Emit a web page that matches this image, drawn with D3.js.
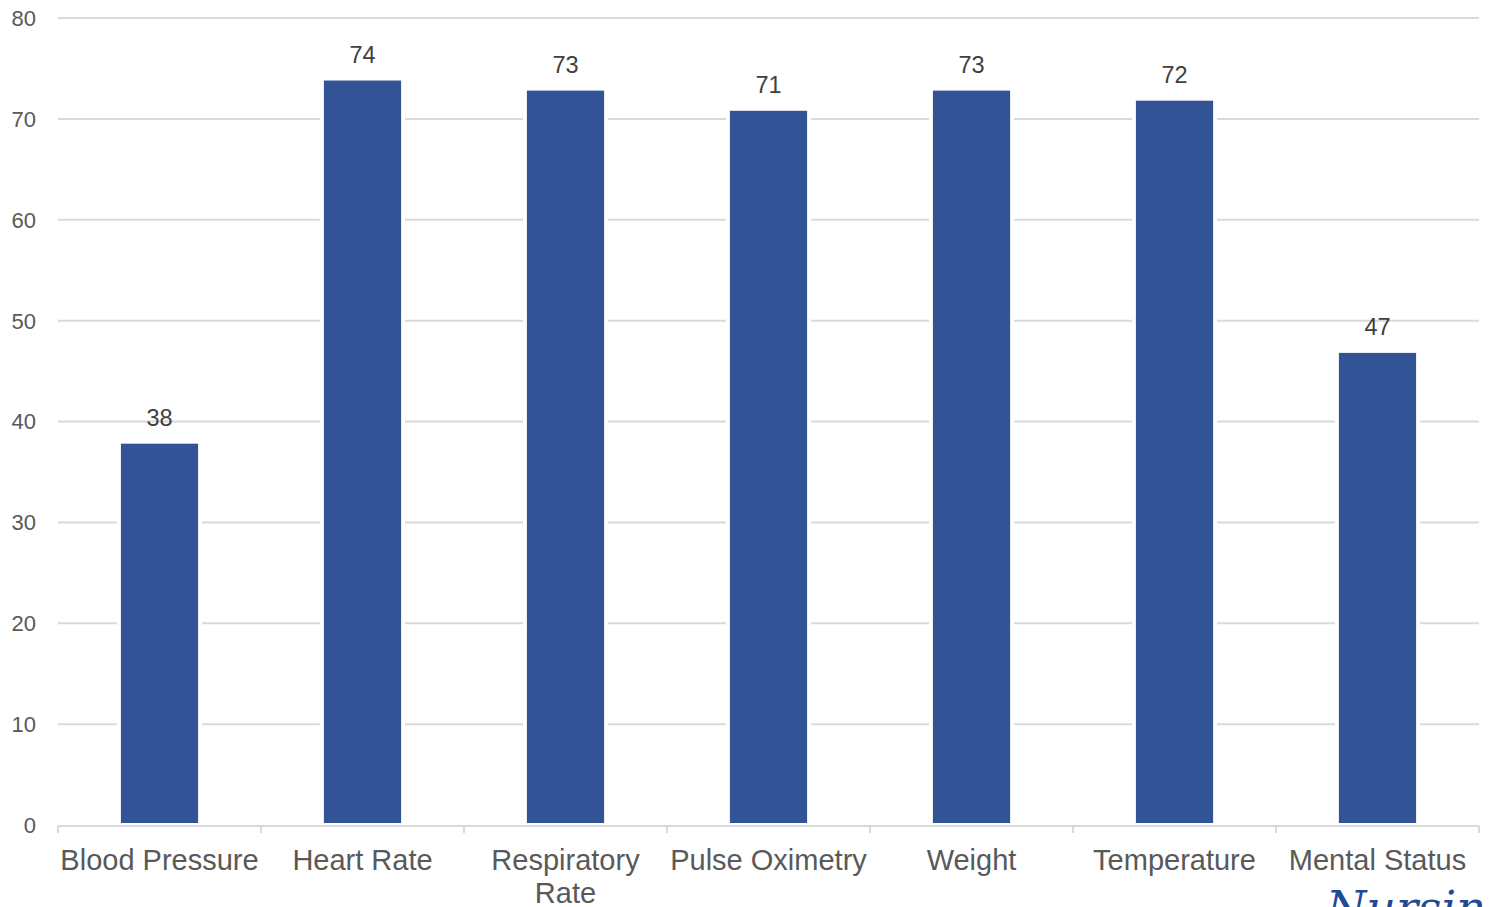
<!DOCTYPE html>
<html>
<head>
<meta charset="utf-8">
<script src="https://cdn.jsdelivr.net/npm/d3@7"></script>
<style>
  html, body { margin: 0; padding: 0; background: #ffffff; overflow: hidden; }
  svg { display: block; font-family: "Liberation Sans", Arial, sans-serif; }
</style>
</head>
<body>
<svg id="chart" width="1491" height="907"></svg>
<script>
// Vital signs documented (count per category)
const categories = ["Blood Pressure", "Heart Rate", "Respiratory Rate", "Pulse Oximetry", "Weight", "Temperature", "Mental Status"];
const values = [38, 74, 73, 71, 73, 72, 47];
const yTicks = [0, 10, 20, 30, 40, 50, 60, 70, 80];

const svg = d3.select("#chart");
const margin = { top: 18, right: 12, bottom: 82, left: 58 };
const width = 1491, height = 907;
const x0 = margin.left, x1 = width - margin.right;
const y0 = height - margin.bottom, y1 = margin.top;

const x = d3.scaleBand().domain(categories).range([x0, x1]).paddingInner(0.6).paddingOuter(0.3);
const band = d3.scaleBand().domain(categories).range([x0, x1]);
const y = d3.scaleLinear().domain([0, 80]).range([y0, y1]);

// Horizontal gridlines
svg.append("g").selectAll("line").data(yTicks.filter(t => t > 0)).join("line")
  .attr("x1", x0).attr("x2", x1)
  .attr("y1", d => y(d)).attr("y2", d => y(d))
  .attr("stroke", "#d9d9d9").attr("stroke-width", 2);

// Y tick labels
svg.append("g").selectAll("text").data(yTicks).join("text")
  .attr("x", 36).attr("y", d => y(d))
  .attr("dy", "0.36em")
  .attr("text-anchor", "end")
  .attr("font-size", 22)
  .attr("fill", "#595959")
  .text(d => d);

// Bars
svg.append("g").selectAll("rect").data(values).join("rect")
  .attr("x", (d, i) => x(categories[i]))
  .attr("width", x.bandwidth())
  .attr("y", d => y(d))
  .attr("height", d => y0 - y(d))
  .attr("fill", "#325496")
  .attr("stroke", "#ffffff")
  .attr("stroke-width", 4);

// Category axis line and tick marks
svg.append("line")
  .attr("x1", x0).attr("x2", x1)
  .attr("y1", y0 + 1).attr("y2", y0 + 1)
  .attr("stroke", "#d9d9d9").attr("stroke-width", 2);
const boundaries = categories.map(c => band(c)).concat([x1]);
svg.append("g").selectAll("line").data(boundaries).join("line")
  .attr("x1", d => d).attr("x2", d => d)
  .attr("y1", y0 + 1).attr("y2", y0 + 8)
  .attr("stroke", "#d9d9d9").attr("stroke-width", 2);

// Value labels above bars
svg.append("g").selectAll("text").data(values).join("text")
  .attr("x", (d, i) => x(categories[i]) + x.bandwidth() / 2)
  .attr("y", d => y(d) - 16)
  .attr("text-anchor", "middle")
  .attr("font-size", 23.5)
  .attr("fill", "#404040")
  .text(d => d);

// Category labels, wrapped when wider than the band
const catG = svg.append("g");
categories.forEach(c => {
  const cx = band(c) + band.bandwidth() / 2;
  const t = catG.append("text")
    .attr("x", cx).attr("y", 870)
    .attr("text-anchor", "middle")
    .attr("font-size", 29)
    .attr("fill", "#595959")
    .text(c);
  if (t.node().getComputedTextLength() > band.bandwidth()) {
    const words = c.split(" ");
    t.text(null);
    words.forEach((w, k) => {
      t.append("tspan").attr("x", cx).attr("dy", k === 0 ? 0 : 33).text(w);
    });
  }
});

// Publisher mark, bottom right corner
svg.append("text")
  .attr("x", 1326).attr("y", 924)
  .attr("font-family", "'DejaVu Serif', serif")
  .attr("font-style", "italic")
  .attr("font-size", 46)
  .attr("fill", "#1f4a94")
  .text("Nursing");
</script>
</body>
</html>
